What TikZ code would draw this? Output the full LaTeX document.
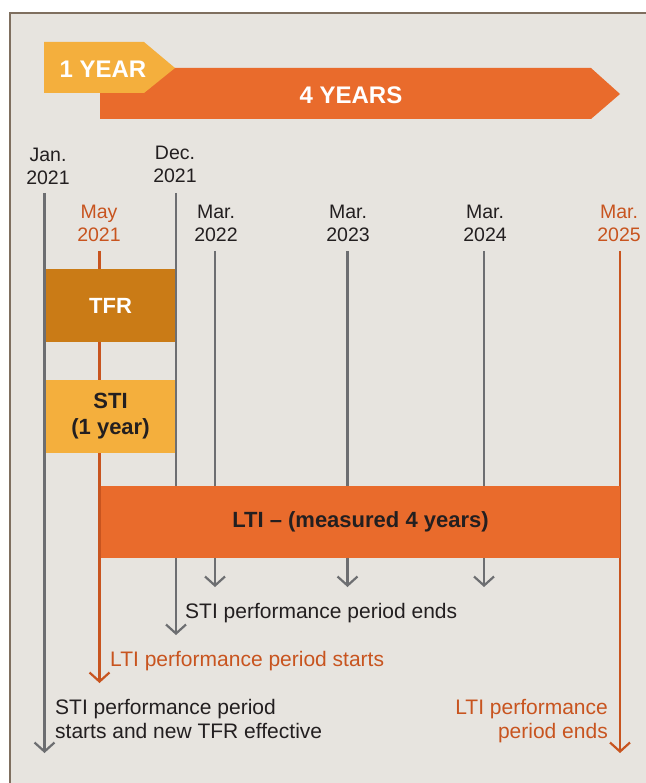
\documentclass[tikz,border=0pt]{standalone}
\usepackage{fontspec}
\setmainfont{Liberation Sans}
\usetikzlibrary{arrows.meta}
\definecolor{bg}{HTML}{E7E4DF}
\definecolor{framec}{HTML}{7F6F5F}
\definecolor{yellowA}{HTML}{F4AF3D}
\definecolor{orangeA}{HTML}{E96B2C}
\definecolor{tfrc}{HTML}{CA7B16}
\definecolor{otext}{HTML}{C8541F}
\definecolor{grayl}{HTML}{6D6E71}
\definecolor{darkt}{HTML}{231F20}
\begin{document}
\begin{tikzpicture}[x=1pt,y=-1pt,
  yl/.style={font=\fontsize{19.5}{23.5}\selectfont, text=darkt, align=center, inner sep=0pt, anchor=base},
  ylo/.style={yl, text=otext},
  gline/.style={draw=grayl, line width=2.2pt, -{Straight Barb[length=9pt,width=20pt]}},
  oline/.style={gline, draw=otext},
  bantext/.style={font=\bfseries\fontsize{24}{28}\selectfont, text=white, inner sep=0pt, anchor=base},
  boxs/.style={inner sep=0pt, font=\bfseries\fontsize{22}{26}\selectfont, align=center},
  btext/.style={font=\fontsize{21}{24}\selectfont, text=darkt, inner sep=0pt}
]
\useasboundingbox (0,0) rectangle (645,783);
\fill[white] (0,0) rectangle (645,783);
\draw[draw=framec, line width=2pt, fill=bg] (10,13) rectangle (700,850);

% banners
\fill[orangeA] (100,68) -- (591,68) -- (620,94) -- (591,119) -- (100,119) -- cycle;
\fill[yellowA] (44,42) -- (144,42) -- (175,68) -- (144,93) -- (44,93) -- cycle;
\node[bantext] (oneyear) at (103,78) {1 YEAR};
\node[bantext] (fouryears) at (351,104) {4 YEARS};

% timeline labels (base = baseline of last line)
\node[yl] (jan) at (48,185) {Jan.\\2021};
\node[yl] (dec) at (175,183) {Dec.\\2021};
\node[ylo] (may) at (99,242) {May\\2021};
\node[yl] (m22) at (216,242) {Mar.\\2022};
\node[yl] (m23) at (348,242) {Mar.\\2023};
\node[yl] (m24) at (485,242) {Mar.\\2024};
\node[ylo] (m25) at (619,242) {Mar.\\2025};

% line end points
\coordinate (janT) at (44.5,193);  \coordinate (janB) at (44.5,753);
\coordinate (decT) at (176,193);   \coordinate (decB) at (176,635);
\coordinate (mayT) at (99.5,251);  \coordinate (mayB) at (99.5,683);
\coordinate (m22T) at (215,251);   \coordinate (m22B) at (215,587);
\coordinate (m23T) at (347.5,251); \coordinate (m23B) at (347.5,587);
\coordinate (m24T) at (484,251);   \coordinate (m24B) at (484,587);
\coordinate (m25T) at (620,251);   \coordinate (m25B) at (620,753);

\draw[gline] (janT) -- (janB);
\draw[gline] (decT) -- (decB);
\draw[oline] (mayT) -- (mayB);
\draw[gline] (m22T) -- (m22B);
\draw[gline] (m23T) -- (m23B);
\draw[gline] (m24T) -- (m24B);
\draw[oline] (m25T) -- (m25B);

% boxes
\node[boxs, fill=tfrc, text=white, minimum width=129, minimum height=73] (tfr) at (110.5,305.5) {TFR};
\node[boxs, fill=yellowA, text=darkt, minimum width=129, minimum height=73] (sti) at (110.5,416) {STI\\(1 year)};
\node[boxs, fill=orangeA, text=darkt, minimum width=519, minimum height=72] (lti) at (360.5,522) {LTI -- (measured 4 years)};

% bottom annotations
\node[btext, anchor=base west] (stiend) at (185,618) {STI performance period ends};
\node[btext, text=otext, anchor=base west] (ltistart) at (110,666) {LTI performance period starts};
\node[btext, align=left, anchor=base west] (stistart) at (55,738) {STI performance period\\starts and new TFR effective};
\node[btext, text=otext, align=right, anchor=base east] (ltiend) at (608,738) {LTI performance\\period ends};
\end{tikzpicture}
\end{document}
